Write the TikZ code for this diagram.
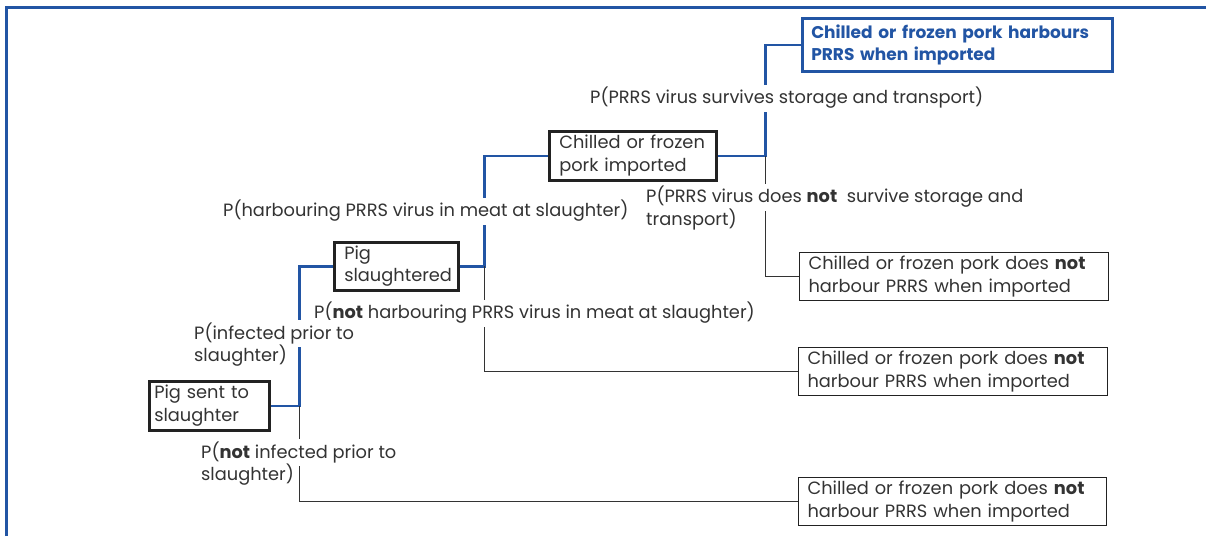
\documentclass[tikz,border=0pt]{standalone}
\usepackage{fontspec}
\setmainfont{Poppins}
\definecolor{blu}{HTML}{2255A4}
\definecolor{txt}{HTML}{333333}
\definecolor{edge}{HTML}{222222}
\begin{document}
\begin{tikzpicture}[x=1pt,y=-1pt,
  font=\fontsize{17.8pt}{22.5pt}\selectfont,
  lbl/.style={fill=white, inner xsep=1pt, inner ysep=0pt, minimum height=27pt, anchor=west, text=txt},
  thickbox/.style={draw=edge, line width=2.5pt, align=left, text=txt, anchor=north west, inner ysep=0pt},
  endbox/.style={draw=edge, line width=1pt, align=left, text=txt, anchor=north west, inner xsep=9pt, inner ysep=0pt, text width=291pt, minimum height=48pt},
  bl/.style={draw=blu, line width=2.5pt},
  bk/.style={draw=txt, line width=1pt},
]
\useasboundingbox (0,0) rectangle (1206,536);
% frame
\draw[blu, line width=2.5pt] (6.5,536) -- (6.5,7.5) -- (1206,7.5);

% boxes
\node[thickbox, inner xsep=5pt, text width=110pt, minimum height=49pt] (sent) at (148,380) {Pig sent to\\slaughter};
\node[thickbox, inner xsep=10pt, text width=104pt, minimum height=48pt] (slaug) at (333,241) {Pig\\slaughtered};
\node[thickbox, inner xsep=10pt, text width=147pt, minimum height=49pt] (imp) at (548,130) {Chilled or frozen\\pork imported};
\node[draw=blu, line width=2.5pt, align=left, text=blu, anchor=north west, inner xsep=9pt, inner ysep=0pt, text width=292pt, minimum height=53pt, font=\fontsize{17pt}{22.5pt}\selectfont\bfseries] (harb) at (801,17) {Chilled or frozen pork harbours\\PRRS when imported};
\node[endbox] (end1) at (799,252) {Chilled or frozen pork does \textbf{not}\\harbour PRRS when imported};
\node[endbox] (end2) at (798,347) {Chilled or frozen pork does \textbf{not}\\harbour PRRS when imported};
\node[endbox, text width=290pt] (end3) at (798,477) {Chilled or frozen pork does \textbf{not}\\harbour PRRS when imported};

% junctions
\path (sent.east) ++(29,0) coordinate (j1);
\path (slaug.east) ++(25,0) coordinate (j2);
\path (imp.east) ++(48,0) coordinate (j3);

% connectors
\draw[bl] (sent.east) -- (j1) |- (slaug.west);
\draw[bk] (j1) |- (end3.west);
\draw[bl] (slaug.east) -- (j2) |- (imp.west);
\draw[bk] (j2) |- (end2.west);
\draw[bl] (imp.east) -- (j3) |- (harb.west);
\draw[bk] (j3) |- (end1.west);

% labels
\node[lbl] (l1) at (589,98) {P(PRRS virus survives storage and transport)};
\node[lbl] (l2a) at (645,197) {P(PRRS virus does \textbf{not}\ \ survive storage and};
\node[lbl, fill=none] (l2b) at (645,219) {transport)};
\node[lbl] (l3) at (222,211) {P(harbouring PRRS virus in meat at slaughter)};
\node[lbl] (l4) at (313,313) {P(\textbf{not} harbouring PRRS virus in meat at slaughter)};
\node[lbl] (l5a) at (193,333) {P(infected prior to};
\node[lbl, fill=none] (l5b) at (193,356) {slaughter)};
\node[lbl] (l6a) at (200,452) {P(\textbf{not} infected prior to};
\node[lbl, fill=none] (l6b) at (200,475) {slaughter)};
\end{tikzpicture}
\end{document}
